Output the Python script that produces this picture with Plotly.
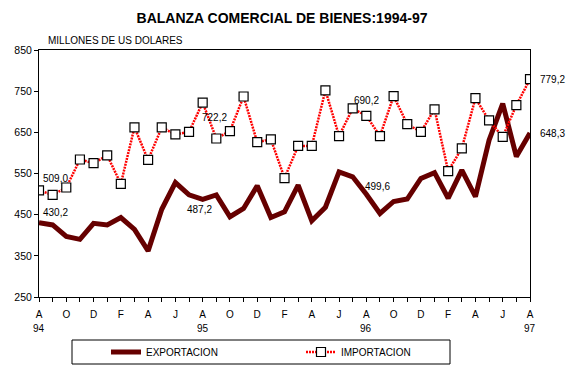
import plotly.graph_objects as go

months = list(range(37))  # Aug 1994 .. Aug 1997
tick_labels = ["A", "O", "D", "F", "A", "J", "A", "O", "D", "F",
               "A", "J", "A", "O", "D", "F", "A", "J", "A"]
year_labels = ["94", "95", "96", "97"]
year_pos = [0, 12, 24, 36]

exportacion = [430.2, 425, 397, 390, 429, 425, 443, 414, 362, 463,
               528, 498, 487.2, 498, 445, 465, 520, 443, 457, 522,
               435, 468, 554, 542, 499.6, 453, 482, 488, 538, 552,
               490, 558, 494, 631, 720, 591, 648.3]
importacion = [509.0, 498, 516, 584, 575, 594, 525, 662, 583, 662,
               645, 651, 722.2, 635, 653, 737, 626, 633, 539, 617,
               617, 752, 641, 708, 690.2, 641, 738, 670, 651, 706,
               556, 611, 733, 679, 639, 716, 779.2]

FONT = "Liberation Sans, Arial, sans-serif"
L, R, T, B = 39, 44, 50, 70
PW, PH = 574 - L - R, 367 - T - B

def px_x(p):
    return (p - L) / PW

def px_y(p):
    return (367 - B - p) / PH

fig = go.Figure()
fig.add_trace(go.Scatter(
    x=months, y=exportacion, mode="lines", name="EXPORTACION",
    line=dict(color="#660000", width=5),
))
fig.add_trace(go.Scatter(
    x=months, y=importacion, mode="lines+markers", name="IMPORTACION",
    line=dict(color="#ff0000", width=2.5, dash="2px,1px"),
    marker=dict(symbol="square", size=9, color="white",
                line=dict(color="black", width=1.2)),
))

ann = []
def lab(text, i, series, xanchor, xshift, yshift):
    ann.append(dict(x=months[i], y=series[i], xref="x", yref="y", text=text,
                    showarrow=False, xanchor=xanchor, yanchor="middle",
                    xshift=xshift, yshift=yshift,
                    font=dict(family=FONT, size=10, color="black")))

lab("509,0", 0, importacion, "left", 2, 12)
lab("430,2", 0, exportacion, "left", 2, 10)
lab("722,2", 12, importacion, "left", -3, -15)
lab("487,2", 12, exportacion, "center", -3, -10)
lab("690,2", 24, importacion, "center", 0, 15)
lab("499,6", 24, exportacion, "left", -3, 8)
lab("779,2", 36, importacion, "left", 8, 0)
lab("648,3", 36, exportacion, "left", 8, 0)

for yl, yp in zip(year_labels, year_pos):
    ann.append(dict(x=yp, y=px_y(328), xref="x", yref="paper", text=yl,
                    showarrow=False, xanchor="center", yanchor="middle",
                    font=dict(family=FONT, size=10, color="black")))

ann.append(dict(x=px_x(46), y=px_y(40), xref="paper", yref="paper",
                text="MILLONES DE US DOLARES", showarrow=False,
                xanchor="left", yanchor="middle",
                font=dict(family=FONT, size=10, color="black")))

fig.update_layout(
    width=574, height=367,
    margin=dict(l=L, r=R, t=T, b=B, autoexpand=False),
    paper_bgcolor="white", plot_bgcolor="white",
    title=dict(text="<b>BALANZA COMERCIAL DE BIENES:1994-97</b>",
               x=282 / 574, xanchor="center", y=1 - 18 / 367, yanchor="middle",
               font=dict(family=FONT, size=14, color="black")),
    font=dict(family=FONT, size=10, color="black"),
    showlegend=True,
    legend=dict(orientation="h", x=px_x(106), xanchor="left", y=px_y(352),
                yanchor="middle", entrywidth=150, entrywidthmode="pixels",
                font=dict(family=FONT, size=10, color="black"),
                bgcolor="rgba(0,0,0,0)", borderwidth=0),
    annotations=ann,
    shapes=[dict(type="rect", xref="paper", yref="paper",
                 x0=px_x(72), x1=px_x(450), y0=px_y(364), y1=px_y(340),
                 line=dict(color="black", width=1), fillcolor="rgba(0,0,0,0)")],
)

fig.update_xaxes(
    range=[0, 36], tickmode="array",
    tickvals=list(range(0, 37, 2)), ticktext=tick_labels,
    ticks="outside", ticklen=4, tickcolor="black", tickwidth=1,
    minor=dict(ticks="outside", dtick=1, ticklen=4, tickcolor="black"),
    showline=True, linecolor="black", linewidth=1, mirror=True,
    showgrid=False, zeroline=False, automargin=False,
    ticklabelstandoff=4,
    tickfont=dict(family=FONT, size=10, color="black"),
)
fig.update_yaxes(
    range=[250, 850], tickmode="array", tickvals=list(range(250, 851, 100)),
    ticks="outside", ticklen=4, tickcolor="black",
    showline=True, linecolor="black", linewidth=1, mirror=True,
    showgrid=False, zeroline=False, automargin=False,
    tickfont=dict(family=FONT, size=10.5, color="black"),
)

fig.write_html("out.html", config={"displayModeBar": False},
               post_script="document.body.style.margin='0';"
                           "document.body.style.overflow='hidden';")
